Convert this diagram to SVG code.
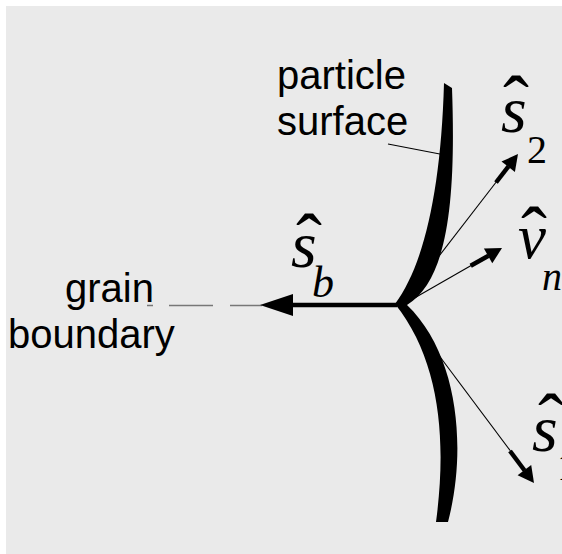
<svg xmlns="http://www.w3.org/2000/svg" width="562" height="554" viewBox="0 0 562 554">
<style>
.lbl{font-family:"Liberation Sans",Arial,sans-serif;font-size:40px;fill:#000}
.m{font-family:"Liberation Serif","Times New Roman",serif;fill:#000}
.it{font-style:italic}
.hat{font-family:"Liberation Serif","Times New Roman",serif;font-size:78px;fill:#000}
.thin{stroke:#000;stroke-width:1.1;fill:none}
.thick{stroke:#000;stroke-width:4.5;fill:none;stroke-linecap:butt}
.head{fill:#000}
</style>
<rect x="0" y="0" width="562" height="554" fill="#ffffff"/>
<rect x="6" y="6" width="556" height="548" fill="#eaeaea"/>

<g id="particle-surface">
<path d="M444,83 C441,190 424,265 395,304 C440,360 447,440 436,522 L448,522 C467,450 459,355 407,305 C448,280 456,200 452,88 Z" fill="#000"/>
<text class="lbl" x="277" y="89">particle</text>
<text class="lbl" x="277" y="135">surface</text>
</g>

<g id="grain-boundary">
<text class="lbl" x="65" y="302">grain</text>
<text class="lbl" x="8" y="348">boundary</text>
</g>

<g id="label-sb">
<text class="hat" x="296" y="268">ˆ</text>
<text class="m it" font-size="66" x="291" y="267">s</text>
<text class="m it" font-size="44" x="312" y="297">b</text>
</g>

<g id="label-s2">
<text class="hat" x="503" y="130">ˆ</text>
<text class="m it" font-size="66" x="501" y="132">s</text>
<text class="m" font-size="40" x="527" y="163">2</text>
</g>

<g id="label-vn">
<text class="hat" x="521" y="261">ˆ</text>
<text class="m it" font-size="63" x="518" y="258">v</text>
<text class="m it" font-size="40" x="542" y="290">n</text>
</g>

<g id="label-s1">
<text class="hat" x="538" y="448">ˆ</text>
<text class="m it" font-size="66" x="532" y="451">s</text>
<text class="m" font-size="40" x="557" y="480">1</text>
</g>

<g id="connectors">
<line x1="388" y1="144" x2="445" y2="155" class="thin"/>
<path d="M147,305.5 H153 M169,305.5 H213 M230,305.5 H262" stroke="#777" stroke-width="1.5" fill="none"/>
<line x1="397" y1="305" x2="290" y2="305" class="thick"/>
<polygon class="head" points="260,305 293,294 293,316"/>

<line x1="402" y1="304" x2="497" y2="181" class="thin"/>
<line x1="496" y1="182.5" x2="508.5" y2="166.3" class="thick"/>
<polygon class="head" points="518,154 514.9,171.9 501.5,161.5"/>

<line x1="404" y1="304" x2="472" y2="265" class="thin"/>
<line x1="470.7" y1="265.8" x2="488.5" y2="255.7" class="thick"/>
<polygon class="head" points="502,248 492.3,263.3 483.9,248.5"/>

<line x1="402" y1="306" x2="512" y2="453" class="thin"/>
<line x1="510" y1="451" x2="524.6" y2="470.5" class="thick"/>
<polygon class="head" points="534,483 517.6,475.3 531.2,465.1"/>
</g>
</svg>
